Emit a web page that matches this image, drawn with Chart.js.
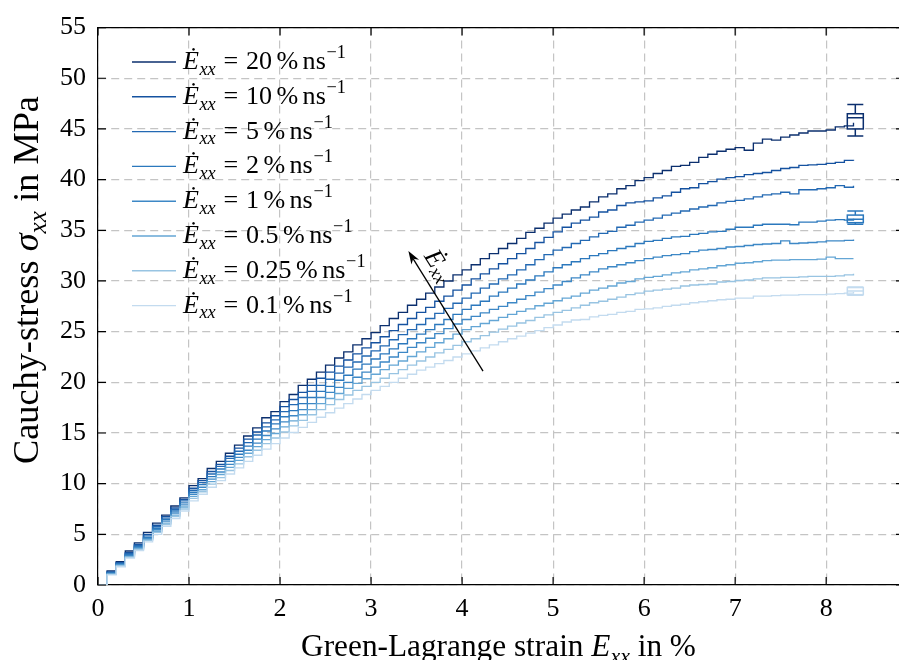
<!DOCTYPE html>
<html>
<head>
<meta charset="utf-8">
<script src="https://cdn.jsdelivr.net/npm/chart.js@4.4.1/dist/chart.umd.min.js"></script>
<style>
html,body{margin:0;padding:0;background:#fff;}
#wrap{width:899px;height:660px;position:relative;}
</style>
</head>
<body>
<div id="wrap"><canvas id="c" width="899" height="660"></canvas></div>
<script>
// ---------------- data ----------------
const strain = [
 0,0.1,0.2,0.3,0.4,0.5,0.6,0.7,0.8,0.9,
 1,1.1,1.2,1.3,1.4,1.5,1.6,1.7,1.8,1.9,
 2,2.1,2.2,2.3,2.4,2.5,2.6,2.7,2.8,2.9,
 3,3.1,3.2,3.3,3.4,3.5,3.6,3.7,3.8,3.9,
 4,4.1,4.2,4.3,4.4,4.5,4.6,4.7,4.8,4.9,
 5,5.1,5.2,5.3,5.4,5.5,5.6,5.7,5.8,5.9,
 6,6.1,6.2,6.3,6.4,6.5,6.6,6.7,6.8,6.9,
 7,7.1,7.2,7.3,7.4,7.5,7.6,7.7,7.8,7.9,
 8,8.1,8.2,8.3
];
const stress20 = [
 0,1.4,2.3,3.35,4.15,5.2,6.1,6.9,7.8,8.6,
 9.8,10.5,11.5,12.2,13.0,13.8,14.7,15.5,16.5,17.1,
 18.1,18.8,19.7,20.3,21.0,21.7,22.4,23.0,23.7,24.3,
 24.9,25.6,26.3,26.9,27.6,28.2,28.8,29.4,30.0,30.6,
 31.1,31.6,32.2,32.7,33.2,33.7,34.2,34.8,35.2,35.7,
 36.2,36.6,37.0,37.3,37.8,38.3,38.6,39.1,39.4,39.9,
 40.2,40.6,40.9,41.3,41.4,41.7,42.2,42.5,42.8,43.0,
 43.15,42.9,43.6,44.0,43.9,44.2,44.4,44.6,44.8,44.8,
 44.9,45.2,45.3,45.6
];
const stress10 = [
 0,1.3,2.2,3.2,4.0,5.0,5.9,6.75,7.6,8.45,
 9.55,10.3,11.2,11.9,12.7,13.5,14.4,15.1,16.0,16.7,
 17.6,18.3,19.0,19.7,20.4,21.0,21.6,22.2,22.8,23.4,
 23.9,24.5,25.1,25.7,26.3,26.9,27.4,28.0,28.5,29.1,
 29.6,30.2,30.7,31.2,31.7,32.2,32.7,33.2,33.8,34.3,
 34.85,35.3,35.7,36.0,36.3,36.8,37.0,37.45,37.7,37.8,
 37.9,38.2,38.4,38.75,39.1,39.2,39.6,39.8,40.05,40.2,
 40.3,40.5,40.6,40.7,40.9,41.1,41.2,41.4,41.45,41.5,
 41.6,41.7,41.9,41.85
];
const stress5 = [
 0,1.25,2.15,3.1,3.9,4.85,5.75,6.6,7.45,8.3,
 9.35,10.1,10.95,11.7,12.5,13.2,14.05,14.8,15.6,16.3,
 17.1,17.8,18.5,19.1,19.7,20.3,20.9,21.5,22.0,22.6,
 23.1,23.6,24.2,24.7,25.2,25.7,26.3,26.8,27.3,27.8,
 28.3,28.8,29.3,29.7,30.2,30.6,31.1,31.6,32.1,32.6,
 33.05,33.3,33.7,34.0,34.35,34.7,34.9,35.3,35.5,35.8,
 36.0,36.2,36.5,36.7,36.9,37.1,37.3,37.45,37.7,37.85,
 37.95,38.1,38.3,38.5,38.6,38.75,38.6,39.0,39.0,39.1,
 39.2,39.4,39.25,39.4
];
const stress2 = [
 0,1.2,2.1,3.0,3.8,4.7,5.6,6.45,7.3,8.1,
 9.15,9.9,10.7,11.45,12.2,12.9,13.7,14.4,15.2,15.9,
 16.6,17.2,17.9,18.5,19.1,19.6,20.2,20.7,21.3,21.8,
 22.3,22.8,23.3,23.8,24.3,24.75,25.2,25.7,26.2,26.7,
 27.2,27.6,28.0,28.5,28.9,29.3,29.7,30.1,30.5,30.9,
 31.3,31.6,31.9,32.2,32.5,32.7,33.0,33.2,33.4,33.7,
 33.9,34.0,34.2,34.35,34.4,34.6,34.7,34.85,34.9,35.1,
 35.3,35.3,35.5,35.6,35.6,35.6,35.55,35.8,35.8,35.9,
 36.0,36.05,36.0,36.15
];
const stress1 = [
 0,1.15,2.0,2.9,3.7,4.6,5.45,6.3,7.1,7.9,
 8.95,9.65,10.45,11.15,11.9,12.6,13.3,14.0,14.75,15.4,
 16.1,16.7,17.3,17.9,18.5,19.0,19.5,20.0,20.5,21.0,
 21.5,22.0,22.5,22.95,23.45,23.9,24.35,24.8,25.3,25.75,
 26.2,26.5,26.85,27.2,27.5,27.85,28.2,28.55,28.9,29.25,
 29.6,29.95,30.3,30.6,30.9,31.2,31.4,31.6,31.8,32.0,
 32.2,32.35,32.5,32.6,32.7,32.9,33.05,33.1,33.2,33.35,
 33.4,33.5,33.6,33.65,33.7,33.95,33.7,33.75,33.8,33.85,
 33.95,33.95,34.0,34.1
];
const stress05 = [
 0,1.1,1.95,2.8,3.6,4.5,5.3,6.1,6.9,7.7,
 8.75,9.4,10.2,10.9,11.6,12.3,13.0,13.65,14.35,14.95,
 15.6,16.2,16.8,17.3,17.9,18.4,18.9,19.4,19.9,20.35,
 20.8,21.25,21.7,22.1,22.55,23.0,23.45,23.9,24.3,24.75,
 25.2,25.5,25.8,26.1,26.4,26.7,27.0,27.25,27.55,27.8,
 28.05,28.3,28.5,28.8,29.1,29.3,29.5,29.8,29.95,30.2,
 30.35,30.45,30.6,30.8,30.9,31.1,31.2,31.3,31.5,31.6,
 31.75,31.8,31.9,32.0,32.05,32.05,32.1,32.1,32.1,32.15,
 32.35,32.2,32.2,32.2
];
const stress025 = [
 0,1.05,1.9,2.75,3.5,4.4,5.2,5.95,6.75,7.5,
 8.55,9.2,9.95,10.6,11.3,11.95,12.65,13.3,13.95,14.5,
 15.1,15.7,16.25,16.8,17.3,17.8,18.3,18.75,19.2,19.6,
 20.0,20.4,20.85,21.25,21.7,22.1,22.5,22.9,23.25,23.65,
 24.0,24.3,24.6,24.95,25.25,25.55,25.85,26.1,26.4,26.65,
 26.9,27.1,27.35,27.6,27.85,28.0,28.2,28.4,28.65,28.8,
 29.0,29.1,29.2,29.3,29.5,29.6,29.65,29.7,29.9,29.95,
 30.05,30.1,30.2,30.3,30.3,30.35,30.35,30.4,30.45,30.45,
 30.45,30.5,30.6,30.7
];
const stress01 = [
 0,1.0,1.8,2.65,3.4,4.25,5.0,5.8,6.55,7.3,
 8.3,8.95,9.65,10.3,10.95,11.55,12.2,12.8,13.4,13.95,
 14.5,15.05,15.55,16.05,16.55,17.0,17.45,17.9,18.35,18.8,
 19.2,19.6,20.0,20.4,20.8,21.2,21.5,21.85,22.15,22.5,
 22.8,23.1,23.4,23.7,24.0,24.3,24.55,24.85,25.1,25.4,
 25.65,25.95,26.15,26.2,26.45,26.6,26.7,26.9,27.0,27.2,
 27.25,27.35,27.5,27.6,27.7,27.85,27.95,28.05,28.15,28.2,
 28.3,28.3,28.5,28.5,28.55,28.6,28.6,28.65,28.65,28.65,
 28.7,28.75,28.8,28.9
];
const rateLabels = ['20','10','5','2','1','0.5','0.25','0.1'];
const seriesValues = [stress20, stress10, stress5, stress2, stress1, stress05, stress025, stress01];

// box plots at the end of some series (index into rateLabels)
const boxSeries = [0, 3, 7];
const boxStrain = [8.32, 8.32, 8.32];
const boxMin = [44.3, 35.6, 28.6];
const boxQ1  = [45.0, 35.75, 28.65];
const boxMed = [46.1, 36.1, 29.0];
const boxQ3  = [46.5, 36.5, 29.35];
const boxMax = [47.4, 36.9, 29.4];

// annotation arrow (strain, stress)
const arrowTail = [4.23, 21.1];
const arrowHead = [3.41, 32.95];

const xTickValues = [0,1,2,3,4,5,6,7,8];
const yTickValues = [0,5,10,15,20,25,30,35,40,45,50,55];

// ---------------- styles ----------------
const seriesColors = ['#0b2f6e','#1552a0','#2369b3','#2b78bd','#3d88c6','#64a6d5','#98c4e2','#c3dbef'];
const FONT = '"Liberation Serif", "Times New Roman", serif';
Chart.defaults.font.family = FONT;
Chart.defaults.color = '#000';

function partFont(p, base){ return (p.it ? 'italic ' : '') + ((p.s || 1) * base).toFixed(2) + 'px ' + FONT; }
function richMeasure(ctx, parts, base){
  let w = 0;
  for (const p of parts){ ctx.font = partFont(p, base); w += ctx.measureText(p.t).width + (p.gap || 0) * base; }
  return w;
}
function richDraw(ctx, parts, x, y, base, align){
  const w = richMeasure(ctx, parts, base);
  let cx = align === 'center' ? x - w / 2 : (align === 'right' ? x - w : x);
  ctx.textAlign = 'left';
  for (const p of parts){
    ctx.font = partFont(p, base);
    ctx.fillText(p.t, cx, y + (p.dy || 0) * base);
    cx += ctx.measureText(p.t).width + (p.gap || 0) * base;
  }
  return w;
}
function fitSize(ctx, parts, target){ const w = richMeasure(ctx, parts, 20); return 20 * target / w; }

const xTitleParts = [{t:'Green-Lagrange strain '},{t:'E', it:1},{t:'xx', it:1, s:0.7, dy:0.22},{t:' in %'}];
const yTitleParts = [{t:'Cauchy-stress '},{t:'σ', it:1},{t:'xx', it:1, s:0.7, dy:0.22},{t:' in MPa'}];
function legendParts(r){
  return [{t:'Ė', it:1, gap:0.02},{t:'xx', it:1, s:0.7, dy:0.22, gap:0.3},{t:'=', gap:0.3},{t:r, gap:0.17},{t:'%', gap:0.17},{t:'ns', gap:0.03},{t:'−1', s:0.7, dy:-0.42}];
}
const arrowLabelParts = [{t:'Ė', it:1},{t:'xx', it:1, s:0.7, dy:0.22}];

const decor = {
  id: 'decor',
  afterDatasetsDraw(chart){
    const {ctx, scales:{x, y}} = chart;
    // box plots
    ctx.save();
    ctx.lineWidth = 1.5;
    for (let i = 0; i < boxSeries.length; i++){
      const c = seriesColors[boxSeries[i]];
      const px = x.getPixelForValue(boxStrain[i]);
      const hw = 8;
      const yMin = y.getPixelForValue(boxMin[i]), yQ1 = y.getPixelForValue(boxQ1[i]);
      const yMd = y.getPixelForValue(boxMed[i]), yQ3 = y.getPixelForValue(boxQ3[i]);
      const yMax = y.getPixelForValue(boxMax[i]);
      ctx.strokeStyle = c;
      ctx.strokeRect(px - hw, yQ3, 2 * hw, yQ1 - yQ3);
      ctx.beginPath();
      ctx.moveTo(px - hw, yMd); ctx.lineTo(px + hw, yMd);
      ctx.moveTo(px, yQ3); ctx.lineTo(px, yMax);
      ctx.moveTo(px, yQ1); ctx.lineTo(px, yMin);
      ctx.moveTo(px - hw, yMax); ctx.lineTo(px + hw, yMax);
      ctx.moveTo(px - hw, yMin); ctx.lineTo(px + hw, yMin);
      ctx.stroke();
    }
    ctx.restore();
    // arrow
    const tx = x.getPixelForValue(arrowTail[0]), ty = y.getPixelForValue(arrowTail[1]);
    const hx = x.getPixelForValue(arrowHead[0]), hy = y.getPixelForValue(arrowHead[1]);
    const dx = hx - tx, dy = hy - ty, L = Math.hypot(dx, dy);
    const ux = dx / L, uy = dy / L;
    const headLen = 13, headW = 4.5;
    ctx.save();
    ctx.strokeStyle = '#000'; ctx.fillStyle = '#000'; ctx.lineWidth = 1.3;
    ctx.beginPath(); ctx.moveTo(tx, ty); ctx.lineTo(hx - ux * headLen * 0.7, hy - uy * headLen * 0.7); ctx.stroke();
    ctx.beginPath();
    ctx.moveTo(hx, hy);
    ctx.lineTo(hx - ux * headLen - uy * headW, hy - uy * headLen + ux * headW);
    ctx.lineTo(hx - ux * headLen * 0.7, hy - uy * headLen * 0.7);
    ctx.lineTo(hx - ux * headLen + uy * headW, hy - uy * headLen - ux * headW);
    ctx.closePath(); ctx.fill();
    // label along the arrow
    const t = 0.8;
    const mx = tx + dx * t, my = ty + dy * t;
    const nx = -uy, ny = ux;
    const sgn = (nx > 0) ? 1 : -1;
    const lx = mx + sgn * nx * 17, ly = my + sgn * ny * 17;
    ctx.translate(lx, ly);
    ctx.rotate(Math.atan2(-dy, -dx));
    ctx.textBaseline = 'middle';
    richDraw(ctx, arrowLabelParts, 0, 0, 26, 'center');
    ctx.restore();
  },
  afterDraw(chart){
    const {ctx, chartArea:a, scales:{x, y}} = chart;
    ctx.save();
    // top border
    ctx.strokeStyle = '#000'; ctx.lineWidth = 1.2;
    ctx.beginPath(); ctx.moveTo(a.left, a.top); ctx.lineTo(a.right, a.top); ctx.stroke();
    // inward ticks
    ctx.beginPath();
    for (const v of xTickValues){
      const px = x.getPixelForValue(v);
      ctx.moveTo(px, a.bottom); ctx.lineTo(px, a.bottom - 8);
      ctx.moveTo(px, a.top); ctx.lineTo(px, a.top + 8);
    }
    for (const v of yTickValues){
      const py = y.getPixelForValue(v);
      ctx.moveTo(a.left, py); ctx.lineTo(a.left + 8, py);
      ctx.moveTo(a.right, py); ctx.lineTo(a.right - 3, py);
    }
    ctx.stroke();
    // legend
    ctx.textBaseline = 'alphabetic';
    ctx.fillStyle = '#000';
    const ls = fitSize(ctx, legendParts(rateLabels[0]), 163);
    for (let i = 0; i < rateLabels.length; i++){
      const ry = 62 + i * 34.8;
      ctx.strokeStyle = seriesColors[i]; ctx.lineWidth = 1.4;
      ctx.beginPath(); ctx.moveTo(132, ry); ctx.lineTo(176, ry); ctx.stroke();
      richDraw(ctx, legendParts(rateLabels[i]), 183, ry + 7, ls, 'left');
    }
    // axis titles
    const xs = fitSize(ctx, xTitleParts, 395);
    richDraw(ctx, xTitleParts, (a.left + a.right) / 2, 656, xs, 'center');
    const ys = fitSize(ctx, yTitleParts, 368);
    ctx.translate(38, 280);
    ctx.rotate(-Math.PI / 2);
    richDraw(ctx, yTitleParts, 0, 0, ys, 'center');
    ctx.restore();
  }
};

const datasets = seriesValues.map((vals, i) => ({
  label: rateLabels[i] + ' % ns^-1',
  data: strain.map((s, j) => ({x: s, y: vals[j]})),
  borderColor: seriesColors[i],
  backgroundColor: seriesColors[i],
  borderWidth: 1.35,
  pointRadius: 0,
  stepped: true,
  fill: false
})).reverse();

new Chart(document.getElementById('c'), {
  type: 'line',
  data: { datasets },
  options: {
    responsive: false,
    animation: false,
    devicePixelRatio: 1,
    layout: { padding: { top: 22, right: 0, left: 0, bottom: 0 } },
    plugins: { legend: { display: false }, tooltip: { enabled: false } },
    scales: {
      x: {
        type: 'linear', min: 0, max: 8.8,
        afterFit(s){ s.height = 75; },
        ticks: { stepSize: 1, includeBounds: false, autoSkip: false, maxRotation: 0, padding: 9,
                 font: { size: 26 }, color: '#000', callback: v => String(v) },
        grid: { color: '#c4c4c4', lineWidth: 1.2, drawTicks: false },
        border: { display: true, color: '#000', width: 1.2, dash: [8, 5] }
      },
      y: {
        type: 'linear', min: 0, max: 55,
        afterFit(s){ s.width = 98; },
        ticks: { stepSize: 5, includeBounds: false, autoSkip: false, padding: 12,
                 font: { size: 26 }, color: '#000', callback: v => String(v) },
        grid: { color: '#c4c4c4', lineWidth: 1.2, drawTicks: false },
        border: { display: true, color: '#000', width: 1.2, dash: [8, 5] }
      }
    }
  },
  plugins: [decor]
});
</script>
</body>
</html>
